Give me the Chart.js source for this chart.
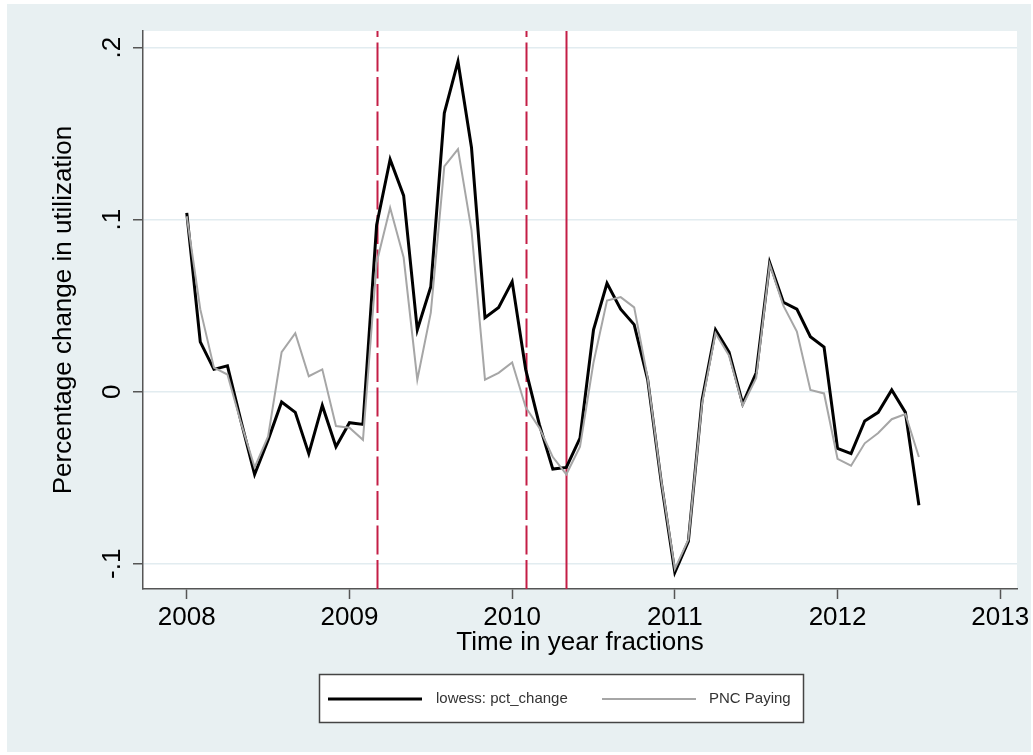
<!DOCTYPE html>
<html>
<head>
<meta charset="utf-8">
<title>Percentage change in utilization</title>
<script src="https://cdn.jsdelivr.net/npm/chart.js@4.4.1/dist/chart.umd.min.js"></script>
<style>
  html, body { margin: 0; padding: 0; background: #ffffff; overflow: hidden; }
  canvas { display: block; }
</style>
</head>
<body>
<canvas id="chart" width="1033" height="755"></canvas>
<script>
// Monthly observations, in year fractions
const months = [
  2008.000, 2008.083, 2008.167, 2008.250, 2008.333, 2008.417, 2008.500, 2008.583, 2008.667, 2008.750, 2008.833, 2008.917,
  2009.000, 2009.083, 2009.167, 2009.250, 2009.333, 2009.417, 2009.500, 2009.583, 2009.667, 2009.750, 2009.833, 2009.917,
  2010.000, 2010.083, 2010.167, 2010.250, 2010.333, 2010.417, 2010.500, 2010.583, 2010.667, 2010.750, 2010.833, 2010.917,
  2011.000, 2011.083, 2011.167, 2011.250, 2011.333, 2011.417, 2011.500, 2011.583, 2011.667, 2011.750, 2011.833, 2011.917,
  2012.000, 2012.083, 2012.167, 2012.250, 2012.333, 2012.417, 2012.500
];

// lowess: pct_change
const lowessPct = [
  0.104, 0.029, 0.013, 0.015, -0.017, -0.048, -0.028, -0.006, -0.012, -0.036, -0.008, -0.032,
  -0.018, -0.019, 0.097, 0.135, 0.114, 0.036, 0.061, 0.162, 0.192, 0.142, 0.043, 0.049,
  0.064, 0.013, -0.019, -0.045, -0.044, -0.027, 0.036, 0.063, 0.048, 0.039, 0.007, -0.053,
  -0.105, -0.087, -0.005, 0.036, 0.023, -0.007, 0.011, 0.075, 0.052, 0.048, 0.032, 0.026,
  -0.033, -0.036, -0.017, -0.012, 0.001, -0.012, -0.066
];

// PNC Paying
const pncPaying = [
  0.102, 0.048, 0.014, 0.010, -0.018, -0.044, -0.026, 0.023, 0.034, 0.009, 0.013, -0.020,
  -0.021, -0.028, 0.075, 0.107, 0.078, 0.007, 0.046, 0.131, 0.141, 0.094, 0.007, 0.011,
  0.017, -0.009, -0.021, -0.038, -0.048, -0.032, 0.017, 0.053, 0.055, 0.049, 0.008, -0.052,
  -0.103, -0.086, -0.007, 0.034, 0.021, -0.008, 0.008, 0.074, 0.050, 0.035, 0.001, -0.001,
  -0.039, -0.043, -0.030, -0.024, -0.016, -0.013, -0.038
];

const xTicks = [2008, 2009, 2010, 2011, 2012, 2013];
const yTicks = [-0.1, 0, 0.1, 0.2];
const yTickLabels = ['-.1', '0', '.1', '.2'];

// Reference dates marked with vertical lines
const dashedEvents = [2009.167, 2010.083];
const solidEvents = [2010.333];

const seriesNames = ['lowess: pct_change', 'PNC Paying'];

const FONT = '"Liberation Sans", Arial, Helvetica, sans-serif';
const OUTER_BG = '#e8f0f2';
const GRID = '#e2ecf0';
const AXIS = '#555555';
const EVENT_RED = '#c41e46';
const GREY_LINE = '#a6a6a6';

const toPoints = (vals) => vals.map((v, i) => ({ x: months[i], y: v }));

const backgroundPlugin = {
  id: 'panelBackground',
  beforeDraw(chart) {
    const { ctx, chartArea: a } = chart;
    ctx.save();
    ctx.fillStyle = '#ffffff';
    ctx.fillRect(0, 0, chart.width, chart.height);
    ctx.fillStyle = OUTER_BG;
    ctx.fillRect(7, 4, chart.width - 9, chart.height - 7);
    ctx.fillStyle = '#ffffff';
    ctx.fillRect(a.left, a.top, a.right - a.left, a.bottom - a.top);
    ctx.restore();
  }
};

const eventLinesPlugin = {
  id: 'eventLines',
  beforeDatasetsDraw(chart) {
    const { ctx, chartArea: a, scales: { x } } = chart;
    ctx.save();
    ctx.strokeStyle = EVENT_RED;
    ctx.lineWidth = 2;
    const draw = (val, dash) => {
      const px = Math.round(x.getPixelForValue(val)) + 0.5;
      ctx.setLineDash(dash);
      ctx.beginPath();
      ctx.moveTo(px, a.bottom);
      ctx.lineTo(px, a.top);
      ctx.stroke();
    };
    dashedEvents.forEach(v => draw(v, [29, 5.5]));
    solidEvents.forEach(v => draw(v, []));
    ctx.restore();
  }
};

const yLabelsPlugin = {
  id: 'rotatedYLabels',
  afterDraw(chart) {
    const { ctx, scales: { y } } = chart;
    ctx.save();
    ctx.fillStyle = '#000000';
    ctx.font = '26px ' + FONT;
    ctx.textAlign = 'center';
    ctx.textBaseline = 'alphabetic';
    yTicks.forEach((v, i) => {
      const py = y.getPixelForValue(v);
      ctx.save();
      ctx.translate(120, py);
      ctx.rotate(-Math.PI / 2);
      ctx.fillText(yTickLabels[i], 0, 0);
      ctx.restore();
    });
    ctx.restore();
  }
};

const legendPlugin = {
  id: 'boxLegend',
  afterDraw(chart) {
    const { ctx } = chart;
    ctx.save();
    ctx.fillStyle = '#ffffff';
    ctx.fillRect(319, 674, 484, 48);
    ctx.strokeStyle = '#444444';
    ctx.lineWidth = 1.5;
    ctx.strokeRect(319.5, 674.5, 484, 48);
    const cy = 699;
    const sets = chart.data.datasets;
    const entries = [
      { x0: 328, x1: 422, tx: 436, ds: sets[0] },
      { x0: 602, x1: 696, tx: 709, ds: sets[1] }
    ];
    ctx.font = '15px ' + FONT;
    ctx.textBaseline = 'middle';
    ctx.textAlign = 'left';
    entries.forEach(e => {
      ctx.strokeStyle = e.ds.borderColor;
      ctx.lineWidth = e.ds.borderWidth;
      ctx.beginPath();
      ctx.moveTo(e.x0, cy);
      ctx.lineTo(e.x1, cy);
      ctx.stroke();
      ctx.fillStyle = '#333333';
      ctx.fillText(e.ds.label, e.tx, cy);
    });
    ctx.restore();
  }
};

new Chart(document.getElementById('chart'), {
  type: 'line',
  data: {
    datasets: [
      {
        label: seriesNames[0],
        data: toPoints(lowessPct),
        borderColor: '#000000',
        borderWidth: 3,
        pointRadius: 0,
        tension: 0,
        order: 1
      },
      {
        label: seriesNames[1],
        data: toPoints(pncPaying),
        borderColor: GREY_LINE,
        borderWidth: 2,
        pointRadius: 0,
        tension: 0,
        order: 0
      }
    ]
  },
  options: {
    responsive: false,
    animation: false,
    devicePixelRatio: 1,
    layout: { padding: { top: 31, right: 16, left: 0, bottom: 0 }, autoPadding: false },
    plugins: {
      legend: { display: false },
      tooltip: { enabled: false },
      title: { display: false }
    },
    scales: {
      x: {
        type: 'linear',
        min: 2007.731,
        max: 2013.103,
        afterBuildTicks: (s) => { s.ticks = xTicks.map(v => ({ value: v })); },
        afterFit: (s) => { s.height = 166; s.paddingLeft = 0; s.paddingRight = 0; },
        ticks: {
          color: '#000000',
          font: { family: FONT, size: 26 },
          padding: 3,
          maxRotation: 0,
          minRotation: 0,
          callback: (v) => String(v)
        },
        grid: {
          drawOnChartArea: false,
          drawTicks: true,
          tickLength: 10,
          tickColor: AXIS,
          tickWidth: 1.5
        },
        border: { display: true, color: AXIS, width: 1.5 },
        title: {
          display: true,
          text: 'Time in year fractions',
          color: '#000000',
          font: { family: FONT, size: 26 },
          padding: { top: 0, bottom: 97 }
        }
      },
      y: {
        type: 'linear',
        min: -0.1147,
        max: 0.2097,
        afterBuildTicks: (s) => { s.ticks = yTicks.map(v => ({ value: v })); },
        afterFit: (s) => { s.width = 143; s.paddingTop = 0; s.paddingBottom = 0; },
        ticks: { display: false },
        grid: {
          color: GRID,
          lineWidth: 1.5,
          drawTicks: true,
          tickLength: 10,
          tickColor: AXIS,
          tickWidth: 1.5
        },
        border: { display: true, color: AXIS, width: 1.5 },
        title: {
          display: true,
          text: 'Percentage change in utilization',
          color: '#000000',
          font: { family: FONT, size: 26 },
          padding: { top: 48, bottom: 0 }
        }
      }
    }
  },
  plugins: [backgroundPlugin, eventLinesPlugin, yLabelsPlugin, legendPlugin]
});
</script>
</body>
</html>
